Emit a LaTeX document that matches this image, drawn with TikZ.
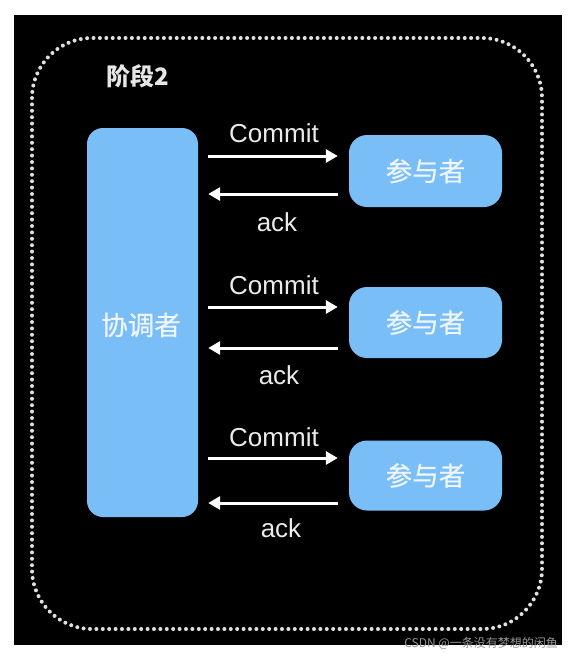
\documentclass[tikz,border=0pt]{standalone}
\usepackage{fontspec}
\setmainfont{Liberation Sans}
\newfontfamily\cjk{Noto Sans CJK SC}[FakeBold=0.6]
\newfontfamily\cjkplain{Noto Sans CJK SC}
\usetikzlibrary{arrows.meta}
\definecolor{boxblue}{RGB}{122,190,248}
\definecolor{boxtext}{RGB}{238,245,255}
\definecolor{lighttext}{RGB}{230,230,230}
\definecolor{wmgray}{RGB}{150,150,150}
\tikzset{
  boxstyle/.style={fill=boxblue, draw=none, rounded corners=16pt, inner sep=0pt},
  boxlabel/.style={text=boxtext, font=\cjk\fontsize{26.5}{30}\selectfont},
  arr/.style={draw=white, line width=3pt, -{Triangle[length=12pt,width=13pt]}},
  lbl/.style={text=white!92!black, font=\fontsize{26}{30}\selectfont, inner sep=0pt},
}
\begin{document}
\begin{tikzpicture}[x=1pt,y=-1pt]
\useasboundingbox (0,0) rectangle (574,659);
\fill[white] (0,0) rectangle (574,659);
\fill[black] (14,15) rectangle (562,645);
% dotted frame
\draw[white!88!black, line width=4pt, line cap=round, dash pattern=on 0pt off 6.4pt, rounded corners=60pt]
  (32,38) rectangle (542,629);
% title
\node[text=lighttext, font=\cjkplain\bfseries\fontsize{24}{28}\selectfont, anchor=west, inner sep=0pt] (title) at (106,76) {阶段2};
% coordinator
\node[boxstyle, minimum width=111pt, minimum height=389pt] (co) at (142.5,322.5) {};
\node[boxlabel] (colabel) at (141,325) {协调者};
% participants
\node[boxstyle, minimum width=153pt, minimum height=72pt, rounded corners=18pt] (p1) at (425.5,171) {};
\node[boxlabel] (p1l) at (425.5,171) {参与者};
\node[boxstyle, minimum width=153pt, minimum height=71pt, rounded corners=18pt] (p2) at (425.5,322.5) {};
\node[boxlabel] (p2l) at (425.5,322.5) {参与者};
\node[boxstyle, minimum width=153pt, minimum height=70pt, rounded corners=18pt] (p3) at (425.5,475.5) {};
\node[boxlabel] (p3l) at (425.5,475.5) {参与者};
% arrow heights
\coordinate (c1) at (0,156);
\coordinate (a1) at (0,194);
\coordinate (c2) at (0,307);
\coordinate (a2) at (0,348);
\coordinate (c3) at (0,458);
\coordinate (a3) at (0,503);
\draw[arr, shorten <=10pt, shorten >=11pt] (co.east |- c1) -- (p1.west |- c1);
\draw[arr, shorten <=11pt, shorten >=10pt] (p1.west |- a1) -- (co.east |- a1);
\draw[arr, shorten <=10pt, shorten >=11pt] (co.east |- c2) -- (p2.west |- c2);
\draw[arr, shorten <=11pt, shorten >=10pt] (p2.west |- a2) -- (co.east |- a2);
\draw[arr, shorten <=10pt, shorten >=11pt] (co.east |- c3) -- (p3.west |- c3);
\draw[arr, shorten <=11pt, shorten >=10pt] (p3.west |- a3) -- (co.east |- a3);
% labels
\node[lbl] (l1) at (274,133) {Commit};
\node[lbl] (k1) at (277,222) {ack};
\node[lbl] (l2) at (274,285) {Commit};
\node[lbl] (k2) at (279,375) {ack};
\node[lbl] (l3) at (274,437) {Commit};
\node[lbl] (k3) at (281,528) {ack};
% watermark
\node[text=wmgray, font=\cjkplain\fontsize{12}{14}\selectfont, anchor=east, inner sep=0pt] (wm) at (558,643) {CSDN @一条没有梦想的闲鱼};
\end{tikzpicture}
\end{document}
